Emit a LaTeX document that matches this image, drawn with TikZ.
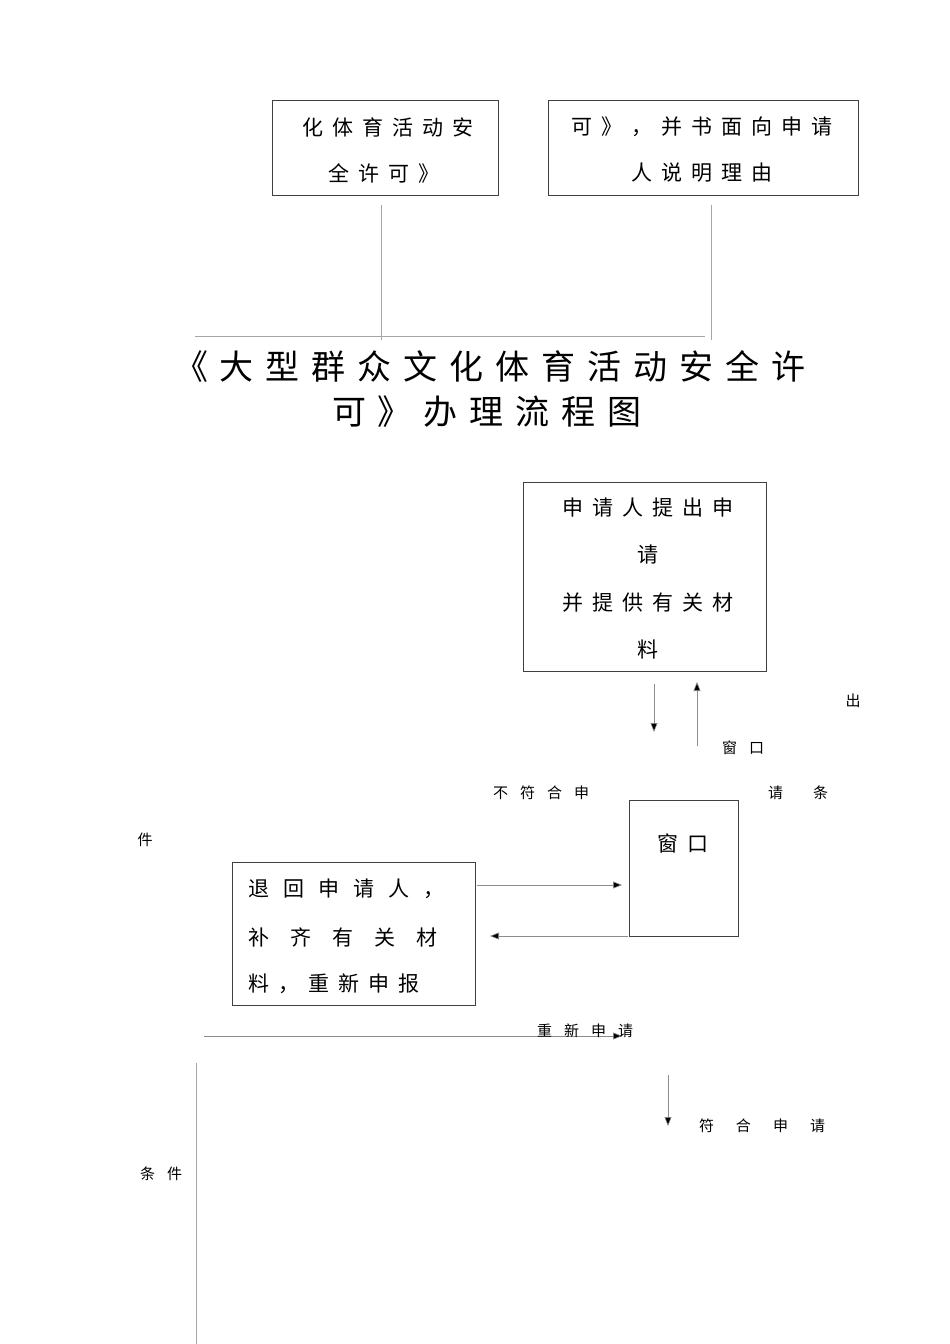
\documentclass[tikz,border=0pt]{standalone}
\usepackage{fontspec}
\newfontfamily\cjk{Noto Sans CJK SC}
\usetikzlibrary{arrows.meta}
\tikzset{
 box/.style={draw=black!75,line width=0.8pt},
 ln/.style={draw=black!35,line width=0.6pt},
 arr/.style={draw=black!45,line width=0.6pt,-{Triangle[length=9pt,width=7pt,fill=black]}},
 t/.style={font=\cjk\fontsize{21}{21}\selectfont,inner sep=0pt},
 s/.style={font=\cjk\fontsize{15}{15}\selectfont,inner sep=0pt},
 big/.style={font=\cjk\fontsize{34}{34}\selectfont,inner sep=0pt},
}
\newcommand{\gp}[1]{\hspace{#1}}
\begin{document}
\begin{tikzpicture}[x=1pt,y=-1pt]
\useasboundingbox (0,0) rectangle (950,1344);
% top boxes
\draw[box] (272,100) rectangle (498,195);
\node[t] (a1) at (388,127) {化\gp{9pt}体\gp{9pt}育\gp{9pt}活\gp{9pt}动\gp{9pt}安};
\node[t] (a2) at (384,173) {全\gp{9pt}许\gp{9pt}可\gp{9pt}》};
\draw[box] (548,100) rectangle (858,195);
\node[t] (b1) at (702,127) {可\gp{9pt}》\gp{9pt}，\gp{9pt}并\gp{9pt}书\gp{9pt}面\gp{9pt}向\gp{9pt}申\gp{9pt}请};
\node[t] (b2) at (702,173) {人\gp{9pt}说\gp{9pt}明\gp{9pt}理\gp{9pt}由};
\coordinate (c1) at (381,205); \coordinate (c2) at (381,340);
\coordinate (c3) at (711,205); \coordinate (c4) at (711,340);
\coordinate (c5) at (195,336); \coordinate (c6) at (705,336);
\draw[ln] (c1)--(c2); \draw[ln] (c3)--(c4); \draw[ln] (c5)--(c6);
% title
\node[big] (title1) at (490,366) {《\gp{12pt}大\gp{12pt}型\gp{12pt}群\gp{12pt}众\gp{12pt}文\gp{12pt}化\gp{12pt}体\gp{12pt}育\gp{12pt}活\gp{12pt}动\gp{12pt}安\gp{12pt}全\gp{12pt}许};
\node[big] (title2) at (487,412) {可\gp{12pt}》\gp{12pt}办\gp{12pt}理\gp{12pt}流\gp{12pt}程\gp{12pt}图};
% applicant box
\draw[box] (523,482) rectangle (766,671);
\node[t] (p1) at (648,508) {申\gp{9pt}请\gp{9pt}人\gp{9pt}提\gp{9pt}出\gp{9pt}申};
\node[t] (p2) at (648,555) {请};
\node[t] (p3) at (648,603) {并\gp{9pt}提\gp{9pt}供\gp{9pt}有\gp{9pt}关\gp{9pt}材};
\node[t] (p4) at (648,650) {料};
\coordinate (d1) at (654,684); \coordinate (d2) at (654,732);
\coordinate (u1) at (697,746); \coordinate (u2) at (697,682);
\draw[arr] (d1)--(d2); \draw[arr] (u1)--(u2);
\node[s] (l1) at (853,701) {出};
\node[s] (l2) at (743,748) {窗\gp{12pt}口};
\node[s] (l3) at (541,793) {不\gp{12pt}符\gp{12pt}合\gp{12pt}申};
\node[s] (l4) at (798,793) {请\gp{30pt}条};
\node[s] (l5) at (145,840) {件};
% window box
\draw[box] (629,800) rectangle (738,936);
\node[t] (w) at (683,843) {窗\gp{9pt}口};
% return box
\draw[box] (232,862) rectangle (475,1005);
\node[t,anchor=west] (r1) at (248,889) {退\gp{14pt}回\gp{14pt}申\gp{14pt}请\gp{14pt}人\gp{14pt}，};
\node[t,anchor=west] (r2) at (248,937) {补\gp{21pt}齐\gp{21pt}有\gp{21pt}关\gp{21pt}材};
\node[t,anchor=west] (r3) at (248,984) {料\gp{9pt}，\gp{9pt}重\gp{9pt}新\gp{9pt}申\gp{9pt}报};
\coordinate (e1) at (477,885); \coordinate (e2) at (622,885);
\coordinate (f1) at (628,936); \coordinate (f2) at (490,936);
\draw[arr] (e1)--(e2); \draw[arr] (f1)--(f2);
\coordinate (g1) at (204,1036); \coordinate (g2) at (622,1036);
\draw[arr] (g1)--(g2);
\node[s] (l6) at (585,1031) {重\gp{12pt}新\gp{12pt}申\gp{12pt}请};
\coordinate (h1) at (196,1063); \coordinate (h2) at (196,1344);
\draw[ln] (h1)--(h2);
\coordinate (k1) at (668,1075); \coordinate (k2) at (668,1126);
\draw[arr] (k1)--(k2);
\node[s] (l7) at (762,1126) {符\gp{22pt}合\gp{22pt}申\gp{22pt}请};
\node[s] (l8) at (161,1174) {条\gp{12pt}件};
\end{tikzpicture}
\end{document}
